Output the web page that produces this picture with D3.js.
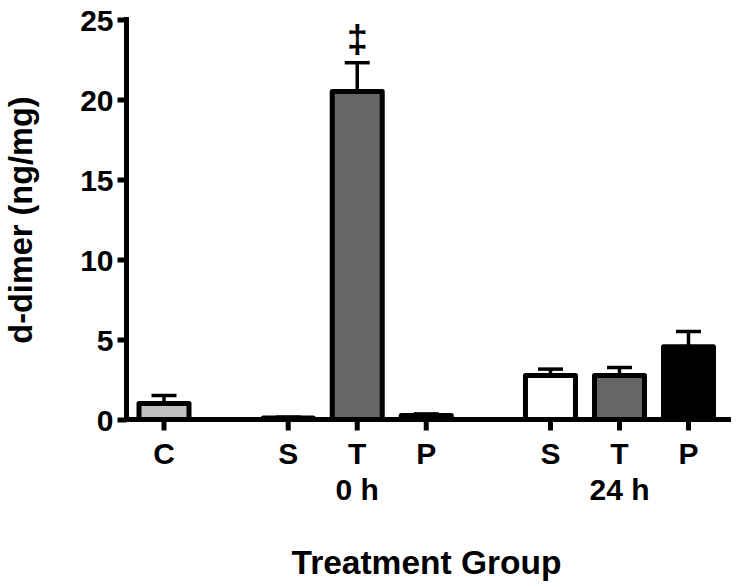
<!DOCTYPE html>
<html>
<head>
<meta charset="utf-8">
<script src="https://cdn.jsdelivr.net/npm/d3@7"></script>
<style>
  html, body { margin: 0; padding: 0; background: #ffffff; }
  svg { display: block; }
  text { font-family: "Liberation Sans", Arial, sans-serif; font-weight: bold; fill: #000; }
</style>
</head>
<body>
<svg id="chart" width="736" height="587"></svg>
<script>
// ---- data ----
const categories = ["C", "S", "T", "P", "S", "T", "P"];
const groupIndex = [0, 1, 1, 1, 2, 2, 2];
const groupLabels = ["", "0 h", "24 h"];
const values = [1.0, 0.1, 20.5, 0.25, 2.75, 2.75, 4.55];
const errors = [0.5, 0.05, 1.8, 0.1, 0.4, 0.5, 0.95];
const fills = ["#c0c0c0", "#ffffff", "#666666", "#000000", "#ffffff", "#666666", "#000000"];
const marks = ["", "", "\u2021", "", "", "", ""];
const yTicks = [0, 5, 10, 15, 20, 25];
const yTitle = "d-dimer (ng/mg)";
const xTitle = "Treatment Group";

// ---- layout ----
const svg = d3.select("#chart");
const groupGap = 0.8;
const slot = categories.map((c, i) => i + groupGap * groupIndex[i]);

const x = d3.scaleLinear().domain([0, d3.max(slot)]).range([164, 688.5]);
const y = d3.scaleLinear().domain([0, 25]).range([419.5, 19.5]);
const barW = 50;
const axisX = 126.5;

// bars
const bars = svg.append("g");
categories.forEach((c, i) => {
  const cx = x(slot[i]);
  const top = y(values[i] + errors[i]);
  bars.append("line")
    .attr("x1", cx).attr("x2", cx)
    .attr("y1", y(values[i])).attr("y2", top)
    .attr("stroke", "#000").attr("stroke-width", 3.5);
  bars.append("line")
    .attr("x1", cx - 12.5).attr("x2", cx + 12.5)
    .attr("y1", top).attr("y2", top)
    .attr("stroke", "#000").attr("stroke-width", 3.5);
  bars.append("rect")
    .attr("x", cx - barW / 2)
    .attr("y", y(values[i]))
    .attr("width", barW)
    .attr("height", y(0) - y(values[i]))
    .attr("fill", fills[i])
    .attr("stroke", "#000")
    .attr("stroke-width", 5)
    .attr("stroke-linejoin", "round");
  if (marks[i]) {
    svg.append("text")
      .attr("x", cx).attr("y", top - 11)
      .attr("text-anchor", "middle")
      .attr("font-size", 38)
      .text(marks[i]);
  }
});

// y axis
const yAxis = d3.axisLeft(y).tickValues(yTicks).tickSize(9).tickPadding(4).tickFormat(d3.format("d"));
const gy = svg.append("g").attr("transform", `translate(${axisX},0)`).call(yAxis);
gy.select(".domain").attr("d", `M0,${y(25) - 2.5}V${y(0)}`).attr("stroke", "#000").attr("stroke-width", 5);
gy.selectAll(".tick line").attr("stroke", "#000").attr("stroke-width", 5);
gy.selectAll(".tick text").attr("font-size", 30).attr("font-family", "Liberation Sans, Arial, sans-serif")
  .attr("font-weight", "bold").attr("fill", "#000").attr("dy", "0.36em");

// x axis line
svg.append("line")
  .attr("x1", axisX - 2.5).attr("x2", 731)
  .attr("y1", y(0)).attr("y2", y(0))
  .attr("stroke", "#000").attr("stroke-width", 5);

// x ticks and labels
categories.forEach((c, i) => {
  const cx = x(slot[i]);
  svg.append("line")
    .attr("x1", cx).attr("x2", cx)
    .attr("y1", y(0)).attr("y2", y(0) + 11)
    .attr("stroke", "#000").attr("stroke-width", 5);
  svg.append("text")
    .attr("x", cx).attr("y", 463.5)
    .attr("text-anchor", "middle")
    .attr("font-size", 30)
    .text(c);
});

// group labels centered on groups
groupLabels.forEach((g, gi) => {
  if (!g) return;
  const idx = categories.map((c, i) => i).filter(i => groupIndex[i] === gi);
  const cx = d3.mean(idx, i => x(slot[i]));
  svg.append("text")
    .attr("x", cx).attr("y", 499.5)
    .attr("text-anchor", "middle")
    .attr("font-size", 30)
    .text(g);
});

// titles
svg.append("text")
  .attr("x", 426.5).attr("y", 573.5)
  .attr("text-anchor", "middle")
  .attr("font-size", 33.5)
  .text(xTitle);

svg.append("text")
  .attr("transform", `translate(32,220) rotate(-90)`)
  .attr("text-anchor", "middle")
  .attr("font-size", 32.5)
  .text(yTitle);
</script>
</body>
</html>
